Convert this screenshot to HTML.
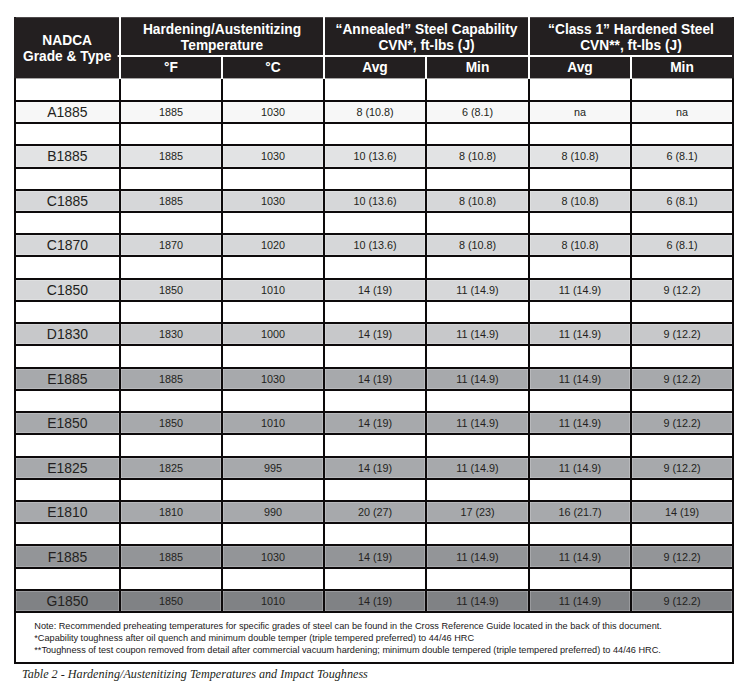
<!DOCTYPE html>
<html lang="en"><head><meta charset="utf-8"><title>Table 2 - Hardening/Austenitizing Temperatures and Impact Toughness</title>
<style>
html,body{margin:0;padding:0;background:#fff;}
body{width:756px;height:697px;position:relative;overflow:hidden;font-family:"Liberation Sans",Arial,sans-serif;color:#231f20;}
svg{position:absolute;left:0;top:0;}
.ht{position:absolute;color:#fff;font-weight:bold;font-size:13.75px;line-height:16px;height:16px;text-align:center;white-space:nowrap;}
.g{position:absolute;font-size:13.95px;line-height:20px;height:20px;text-align:center;white-space:nowrap;}
.d{position:absolute;font-size:10.8px;line-height:20px;height:20px;text-align:center;white-space:nowrap;}
.n{position:absolute;color:#1a1718;font-size:9.16px;line-height:12px;height:12px;white-space:nowrap;left:34.3px;}
.cap{position:absolute;font-family:"Liberation Serif","Times New Roman",serif;font-style:italic;font-size:12.7px;line-height:16px;white-space:nowrap;color:#231f20;transform-origin:0 0;}
</style></head><body>

<svg width="756" height="697" viewBox="0 0 756 697">
<rect x="16.20" y="102.20" width="102.60" height="19.60" fill="#f7f7f7"/>
<rect x="121.20" y="102.20" width="99.60" height="19.60" fill="#f7f7f7"/>
<rect x="223.20" y="102.20" width="99.60" height="19.60" fill="#f7f7f7"/>
<rect x="325.20" y="102.20" width="99.60" height="19.60" fill="#f7f7f7"/>
<rect x="427.20" y="102.20" width="100.60" height="19.60" fill="#f7f7f7"/>
<rect x="530.20" y="102.20" width="99.60" height="19.60" fill="#f7f7f7"/>
<rect x="632.20" y="102.20" width="99.60" height="19.60" fill="#f7f7f7"/>
<rect x="16.20" y="146.20" width="102.60" height="20.60" fill="#e2e3e4"/>
<rect x="121.20" y="146.20" width="99.60" height="20.60" fill="#e2e3e4"/>
<rect x="223.20" y="146.20" width="99.60" height="20.60" fill="#e2e3e4"/>
<rect x="325.20" y="146.20" width="99.60" height="20.60" fill="#e2e3e4"/>
<rect x="427.20" y="146.20" width="100.60" height="20.60" fill="#e2e3e4"/>
<rect x="530.20" y="146.20" width="99.60" height="20.60" fill="#e2e3e4"/>
<rect x="632.20" y="146.20" width="99.60" height="20.60" fill="#e2e3e4"/>
<rect x="16.20" y="191.20" width="102.60" height="19.60" fill="#d6d7d9"/>
<rect x="121.20" y="191.20" width="99.60" height="19.60" fill="#d6d7d9"/>
<rect x="223.20" y="191.20" width="99.60" height="19.60" fill="#d6d7d9"/>
<rect x="325.20" y="191.20" width="99.60" height="19.60" fill="#d6d7d9"/>
<rect x="427.20" y="191.20" width="100.60" height="19.60" fill="#d6d7d9"/>
<rect x="530.20" y="191.20" width="99.60" height="19.60" fill="#d6d7d9"/>
<rect x="632.20" y="191.20" width="99.60" height="19.60" fill="#d6d7d9"/>
<rect x="16.20" y="235.20" width="102.60" height="19.60" fill="#d6d7d9"/>
<rect x="121.20" y="235.20" width="99.60" height="19.60" fill="#d6d7d9"/>
<rect x="223.20" y="235.20" width="99.60" height="19.60" fill="#d6d7d9"/>
<rect x="325.20" y="235.20" width="99.60" height="19.60" fill="#d6d7d9"/>
<rect x="427.20" y="235.20" width="100.60" height="19.60" fill="#d6d7d9"/>
<rect x="530.20" y="235.20" width="99.60" height="19.60" fill="#d6d7d9"/>
<rect x="632.20" y="235.20" width="99.60" height="19.60" fill="#d6d7d9"/>
<rect x="16.20" y="280.20" width="102.60" height="19.60" fill="#d6d7d9"/>
<rect x="121.20" y="280.20" width="99.60" height="19.60" fill="#d6d7d9"/>
<rect x="223.20" y="280.20" width="99.60" height="19.60" fill="#d6d7d9"/>
<rect x="325.20" y="280.20" width="99.60" height="19.60" fill="#d6d7d9"/>
<rect x="427.20" y="280.20" width="100.60" height="19.60" fill="#d6d7d9"/>
<rect x="530.20" y="280.20" width="99.60" height="19.60" fill="#d6d7d9"/>
<rect x="632.20" y="280.20" width="99.60" height="19.60" fill="#d6d7d9"/>
<rect x="16.20" y="324.20" width="102.60" height="19.60" fill="#c7c8ca"/>
<rect x="121.20" y="324.20" width="99.60" height="19.60" fill="#c7c8ca"/>
<rect x="223.20" y="324.20" width="99.60" height="19.60" fill="#c7c8ca"/>
<rect x="325.20" y="324.20" width="99.60" height="19.60" fill="#c7c8ca"/>
<rect x="427.20" y="324.20" width="100.60" height="19.60" fill="#c7c8ca"/>
<rect x="530.20" y="324.20" width="99.60" height="19.60" fill="#c7c8ca"/>
<rect x="632.20" y="324.20" width="99.60" height="19.60" fill="#c7c8ca"/>
<rect x="16.20" y="369.20" width="102.60" height="19.60" fill="#a7a9ac"/>
<rect x="121.20" y="369.20" width="99.60" height="19.60" fill="#a7a9ac"/>
<rect x="223.20" y="369.20" width="99.60" height="19.60" fill="#a7a9ac"/>
<rect x="325.20" y="369.20" width="99.60" height="19.60" fill="#a7a9ac"/>
<rect x="427.20" y="369.20" width="100.60" height="19.60" fill="#a7a9ac"/>
<rect x="530.20" y="369.20" width="99.60" height="19.60" fill="#a7a9ac"/>
<rect x="632.20" y="369.20" width="99.60" height="19.60" fill="#a7a9ac"/>
<rect x="16.20" y="413.20" width="102.60" height="19.60" fill="#a7a9ac"/>
<rect x="121.20" y="413.20" width="99.60" height="19.60" fill="#a7a9ac"/>
<rect x="223.20" y="413.20" width="99.60" height="19.60" fill="#a7a9ac"/>
<rect x="325.20" y="413.20" width="99.60" height="19.60" fill="#a7a9ac"/>
<rect x="427.20" y="413.20" width="100.60" height="19.60" fill="#a7a9ac"/>
<rect x="530.20" y="413.20" width="99.60" height="19.60" fill="#a7a9ac"/>
<rect x="632.20" y="413.20" width="99.60" height="19.60" fill="#a7a9ac"/>
<rect x="16.20" y="458.20" width="102.60" height="19.60" fill="#a7a9ac"/>
<rect x="121.20" y="458.20" width="99.60" height="19.60" fill="#a7a9ac"/>
<rect x="223.20" y="458.20" width="99.60" height="19.60" fill="#a7a9ac"/>
<rect x="325.20" y="458.20" width="99.60" height="19.60" fill="#a7a9ac"/>
<rect x="427.20" y="458.20" width="100.60" height="19.60" fill="#a7a9ac"/>
<rect x="530.20" y="458.20" width="99.60" height="19.60" fill="#a7a9ac"/>
<rect x="632.20" y="458.20" width="99.60" height="19.60" fill="#a7a9ac"/>
<rect x="16.20" y="502.20" width="102.60" height="19.60" fill="#a7a9ac"/>
<rect x="121.20" y="502.20" width="99.60" height="19.60" fill="#a7a9ac"/>
<rect x="223.20" y="502.20" width="99.60" height="19.60" fill="#a7a9ac"/>
<rect x="325.20" y="502.20" width="99.60" height="19.60" fill="#a7a9ac"/>
<rect x="427.20" y="502.20" width="100.60" height="19.60" fill="#a7a9ac"/>
<rect x="530.20" y="502.20" width="99.60" height="19.60" fill="#a7a9ac"/>
<rect x="632.20" y="502.20" width="99.60" height="19.60" fill="#a7a9ac"/>
<rect x="16.20" y="546.20" width="102.60" height="20.60" fill="#939598"/>
<rect x="121.20" y="546.20" width="99.60" height="20.60" fill="#939598"/>
<rect x="223.20" y="546.20" width="99.60" height="20.60" fill="#939598"/>
<rect x="325.20" y="546.20" width="99.60" height="20.60" fill="#939598"/>
<rect x="427.20" y="546.20" width="100.60" height="20.60" fill="#939598"/>
<rect x="530.20" y="546.20" width="99.60" height="20.60" fill="#939598"/>
<rect x="632.20" y="546.20" width="99.60" height="20.60" fill="#939598"/>
<rect x="16.20" y="591.20" width="102.60" height="19.60" fill="#808285"/>
<rect x="121.20" y="591.20" width="99.60" height="19.60" fill="#808285"/>
<rect x="223.20" y="591.20" width="99.60" height="19.60" fill="#808285"/>
<rect x="325.20" y="591.20" width="99.60" height="19.60" fill="#808285"/>
<rect x="427.20" y="591.20" width="100.60" height="19.60" fill="#808285"/>
<rect x="530.20" y="591.20" width="99.60" height="19.60" fill="#808285"/>
<rect x="632.20" y="591.20" width="99.60" height="19.60" fill="#808285"/>
<g stroke="#0d0a0b" stroke-width="2.0" fill="none">
<line x1="14.0" y1="101" x2="734.0" y2="101"/>
<line x1="14.0" y1="123" x2="734.0" y2="123"/>
<line x1="14.0" y1="145" x2="734.0" y2="145"/>
<line x1="14.0" y1="168" x2="734.0" y2="168"/>
<line x1="14.0" y1="190" x2="734.0" y2="190"/>
<line x1="14.0" y1="212" x2="734.0" y2="212"/>
<line x1="14.0" y1="234" x2="734.0" y2="234"/>
<line x1="14.0" y1="256" x2="734.0" y2="256"/>
<line x1="14.0" y1="279" x2="734.0" y2="279"/>
<line x1="14.0" y1="301" x2="734.0" y2="301"/>
<line x1="14.0" y1="323" x2="734.0" y2="323"/>
<line x1="14.0" y1="345" x2="734.0" y2="345"/>
<line x1="14.0" y1="368" x2="734.0" y2="368"/>
<line x1="14.0" y1="390" x2="734.0" y2="390"/>
<line x1="14.0" y1="412" x2="734.0" y2="412"/>
<line x1="14.0" y1="434" x2="734.0" y2="434"/>
<line x1="14.0" y1="457" x2="734.0" y2="457"/>
<line x1="14.0" y1="479" x2="734.0" y2="479"/>
<line x1="14.0" y1="501" x2="734.0" y2="501"/>
<line x1="14.0" y1="523" x2="734.0" y2="523"/>
<line x1="14.0" y1="545" x2="734.0" y2="545"/>
<line x1="14.0" y1="568" x2="734.0" y2="568"/>
<line x1="14.0" y1="590" x2="734.0" y2="590"/>
<line x1="14.0" y1="612" x2="734.0" y2="612"/>
<line x1="14.0" y1="663.0" x2="734.0" y2="663.0"/>
<line x1="15.0" y1="16.9" x2="15.0" y2="664.0"/>
<line x1="733.0" y1="16.9" x2="733.0" y2="664.0"/>
<line x1="120.0" y1="78.80000000000001" x2="120.0" y2="613.00"/>
<line x1="222.0" y1="78.80000000000001" x2="222.0" y2="613.00"/>
<line x1="324.0" y1="78.80000000000001" x2="324.0" y2="613.00"/>
<line x1="426.0" y1="78.80000000000001" x2="426.0" y2="613.00"/>
<line x1="529.0" y1="78.80000000000001" x2="529.0" y2="613.00"/>
<line x1="631.0" y1="78.80000000000001" x2="631.0" y2="613.00"/>
</g>
<rect x="14.0" y="17.2" width="720.0" height="61.20" fill="#231f20"/>
<g stroke="#fff" stroke-width="2.0" fill="none">
<line x1="120.0" y1="17.0" x2="120.0" y2="78.9"/>
<line x1="324.0" y1="17.0" x2="324.0" y2="78.9"/>
<line x1="529.0" y1="17.0" x2="529.0" y2="78.9"/>
<line x1="222.0" y1="56.0" x2="222.0" y2="78.9"/>
<line x1="426.0" y1="56.0" x2="426.0" y2="78.9"/>
<line x1="631.0" y1="56.0" x2="631.0" y2="78.9"/>
<line x1="118.4" y1="56.0" x2="732.0" y2="56.0"/>
<circle cx="118.4" cy="56.0" r="1" fill="#fff" stroke="none"/>
</g>
</svg>
<div class="ht" style="left:14.70px;width:105.00px;top:33.0px">NADCA</div>
<div class="ht" style="left:14.70px;width:105.00px;top:49.0px">Grade &amp; Type</div>
<div class="ht" style="left:120.00px;width:204.00px;top:22px">Hardening/Austenitizing</div>
<div class="ht" style="left:120.00px;width:204.00px;top:38px">Temperature</div>
<div class="ht" style="left:324.00px;width:205.00px;top:22px">&ldquo;Annealed&rdquo; Steel Capability</div>
<div class="ht" style="left:324.00px;width:205.00px;top:38px">CVN*, ft-lbs (J)</div>
<div class="ht" style="left:529.00px;width:204.00px;top:22px">&ldquo;Class 1&rdquo; Hardened Steel</div>
<div class="ht" style="left:529.00px;width:204.00px;top:38px">CVN**, ft-lbs (J)</div>
<div class="ht" style="left:120.00px;width:102.00px;top:60px">&deg;F</div>
<div class="ht" style="left:222.00px;width:102.00px;top:60px">&deg;C</div>
<div class="ht" style="left:324.00px;width:102.00px;top:60px">Avg</div>
<div class="ht" style="left:426.00px;width:103.00px;top:60px">Min</div>
<div class="ht" style="left:529.00px;width:102.00px;top:60px">Avg</div>
<div class="ht" style="left:631.00px;width:102.00px;top:60px">Min</div>
<div class="g" style="left:14.90px;width:105.00px;top:102px">A1885</div>
<div class="d" style="left:120.00px;width:102.00px;top:102px">1885</div>
<div class="d" style="left:222.00px;width:102.00px;top:102px">1030</div>
<div class="d" style="left:324.00px;width:102.00px;top:102px">8 (10.8)</div>
<div class="d" style="left:426.00px;width:103.00px;top:102px">6 (8.1)</div>
<div class="d" style="left:529.00px;width:102.00px;top:102px">na</div>
<div class="d" style="left:631.00px;width:102.00px;top:102px">na</div>
<div class="g" style="left:14.90px;width:105.00px;top:146px">B1885</div>
<div class="d" style="left:120.00px;width:102.00px;top:146px">1885</div>
<div class="d" style="left:222.00px;width:102.00px;top:146px">1030</div>
<div class="d" style="left:324.00px;width:102.00px;top:146px">10 (13.6)</div>
<div class="d" style="left:426.00px;width:103.00px;top:146px">8 (10.8)</div>
<div class="d" style="left:529.00px;width:102.00px;top:146px">8 (10.8)</div>
<div class="d" style="left:631.00px;width:102.00px;top:146px">6 (8.1)</div>
<div class="g" style="left:14.90px;width:105.00px;top:191px">C1885</div>
<div class="d" style="left:120.00px;width:102.00px;top:191px">1885</div>
<div class="d" style="left:222.00px;width:102.00px;top:191px">1030</div>
<div class="d" style="left:324.00px;width:102.00px;top:191px">10 (13.6)</div>
<div class="d" style="left:426.00px;width:103.00px;top:191px">8 (10.8)</div>
<div class="d" style="left:529.00px;width:102.00px;top:191px">8 (10.8)</div>
<div class="d" style="left:631.00px;width:102.00px;top:191px">6 (8.1)</div>
<div class="g" style="left:14.90px;width:105.00px;top:235px">C1870</div>
<div class="d" style="left:120.00px;width:102.00px;top:235px">1870</div>
<div class="d" style="left:222.00px;width:102.00px;top:235px">1020</div>
<div class="d" style="left:324.00px;width:102.00px;top:235px">10 (13.6)</div>
<div class="d" style="left:426.00px;width:103.00px;top:235px">8 (10.8)</div>
<div class="d" style="left:529.00px;width:102.00px;top:235px">8 (10.8)</div>
<div class="d" style="left:631.00px;width:102.00px;top:235px">6 (8.1)</div>
<div class="g" style="left:14.90px;width:105.00px;top:280px">C1850</div>
<div class="d" style="left:120.00px;width:102.00px;top:280px">1850</div>
<div class="d" style="left:222.00px;width:102.00px;top:280px">1010</div>
<div class="d" style="left:324.00px;width:102.00px;top:280px">14 (19)</div>
<div class="d" style="left:426.00px;width:103.00px;top:280px"><span style="letter-spacing:-0.8px">1</span>1 (14.9)</div>
<div class="d" style="left:529.00px;width:102.00px;top:280px"><span style="letter-spacing:-0.8px">1</span>1 (14.9)</div>
<div class="d" style="left:631.00px;width:102.00px;top:280px">9 (12.2)</div>
<div class="g" style="left:14.90px;width:105.00px;top:324px">D1830</div>
<div class="d" style="left:120.00px;width:102.00px;top:324px">1830</div>
<div class="d" style="left:222.00px;width:102.00px;top:324px">1000</div>
<div class="d" style="left:324.00px;width:102.00px;top:324px">14 (19)</div>
<div class="d" style="left:426.00px;width:103.00px;top:324px"><span style="letter-spacing:-0.8px">1</span>1 (14.9)</div>
<div class="d" style="left:529.00px;width:102.00px;top:324px"><span style="letter-spacing:-0.8px">1</span>1 (14.9)</div>
<div class="d" style="left:631.00px;width:102.00px;top:324px">9 (12.2)</div>
<div class="g" style="left:14.90px;width:105.00px;top:369px">E1885</div>
<div class="d" style="left:120.00px;width:102.00px;top:369px">1885</div>
<div class="d" style="left:222.00px;width:102.00px;top:369px">1030</div>
<div class="d" style="left:324.00px;width:102.00px;top:369px">14 (19)</div>
<div class="d" style="left:426.00px;width:103.00px;top:369px"><span style="letter-spacing:-0.8px">1</span>1 (14.9)</div>
<div class="d" style="left:529.00px;width:102.00px;top:369px"><span style="letter-spacing:-0.8px">1</span>1 (14.9)</div>
<div class="d" style="left:631.00px;width:102.00px;top:369px">9 (12.2)</div>
<div class="g" style="left:14.90px;width:105.00px;top:413px">E1850</div>
<div class="d" style="left:120.00px;width:102.00px;top:413px">1850</div>
<div class="d" style="left:222.00px;width:102.00px;top:413px">1010</div>
<div class="d" style="left:324.00px;width:102.00px;top:413px">14 (19)</div>
<div class="d" style="left:426.00px;width:103.00px;top:413px"><span style="letter-spacing:-0.8px">1</span>1 (14.9)</div>
<div class="d" style="left:529.00px;width:102.00px;top:413px"><span style="letter-spacing:-0.8px">1</span>1 (14.9)</div>
<div class="d" style="left:631.00px;width:102.00px;top:413px">9 (12.2)</div>
<div class="g" style="left:14.90px;width:105.00px;top:458px">E1825</div>
<div class="d" style="left:120.00px;width:102.00px;top:458px">1825</div>
<div class="d" style="left:222.00px;width:102.00px;top:458px">995</div>
<div class="d" style="left:324.00px;width:102.00px;top:458px">14 (19)</div>
<div class="d" style="left:426.00px;width:103.00px;top:458px"><span style="letter-spacing:-0.8px">1</span>1 (14.9)</div>
<div class="d" style="left:529.00px;width:102.00px;top:458px"><span style="letter-spacing:-0.8px">1</span>1 (14.9)</div>
<div class="d" style="left:631.00px;width:102.00px;top:458px">9 (12.2)</div>
<div class="g" style="left:14.90px;width:105.00px;top:502px">E1810</div>
<div class="d" style="left:120.00px;width:102.00px;top:502px">1810</div>
<div class="d" style="left:222.00px;width:102.00px;top:502px">990</div>
<div class="d" style="left:324.00px;width:102.00px;top:502px">20 (27)</div>
<div class="d" style="left:426.00px;width:103.00px;top:502px">17 (23)</div>
<div class="d" style="left:529.00px;width:102.00px;top:502px">16 (21.7)</div>
<div class="d" style="left:631.00px;width:102.00px;top:502px">14 (19)</div>
<div class="g" style="left:14.90px;width:105.00px;top:547px">F1885</div>
<div class="d" style="left:120.00px;width:102.00px;top:547px">1885</div>
<div class="d" style="left:222.00px;width:102.00px;top:547px">1030</div>
<div class="d" style="left:324.00px;width:102.00px;top:547px">14 (19)</div>
<div class="d" style="left:426.00px;width:103.00px;top:547px"><span style="letter-spacing:-0.8px">1</span>1 (14.9)</div>
<div class="d" style="left:529.00px;width:102.00px;top:547px"><span style="letter-spacing:-0.8px">1</span>1 (14.9)</div>
<div class="d" style="left:631.00px;width:102.00px;top:547px">9 (12.2)</div>
<div class="g" style="left:14.90px;width:105.00px;top:591px">G1850</div>
<div class="d" style="left:120.00px;width:102.00px;top:591px">1850</div>
<div class="d" style="left:222.00px;width:102.00px;top:591px">1010</div>
<div class="d" style="left:324.00px;width:102.00px;top:591px">14 (19)</div>
<div class="d" style="left:426.00px;width:103.00px;top:591px"><span style="letter-spacing:-0.8px">1</span>1 (14.9)</div>
<div class="d" style="left:529.00px;width:102.00px;top:591px"><span style="letter-spacing:-0.8px">1</span>1 (14.9)</div>
<div class="d" style="left:631.00px;width:102.00px;top:591px">9 (12.2)</div>
<div class="n" style="top:620px">Note: Recommended preheating temperatures for specific grades of steel can be found in the Cross Reference Guide located in the back of this document.</div>
<div class="n" style="top:632px">*Capability toughness after oil quench and minimum double temper (triple tempered preferred) to 44/46 HRC</div>
<div class="n" style="top:644px">**Toughness of test coupon removed from detail after commercial vacuum hardening; minimum double tempered (triple tempered preferred) to 44/46 HRC.</div>
<div class="cap" style="left:21.5px;top:666px;transform:scaleX(0.958)">Table 2 - Hardening/Austenitizing Temperatures and Impact Toughness</div>
</body></html>
